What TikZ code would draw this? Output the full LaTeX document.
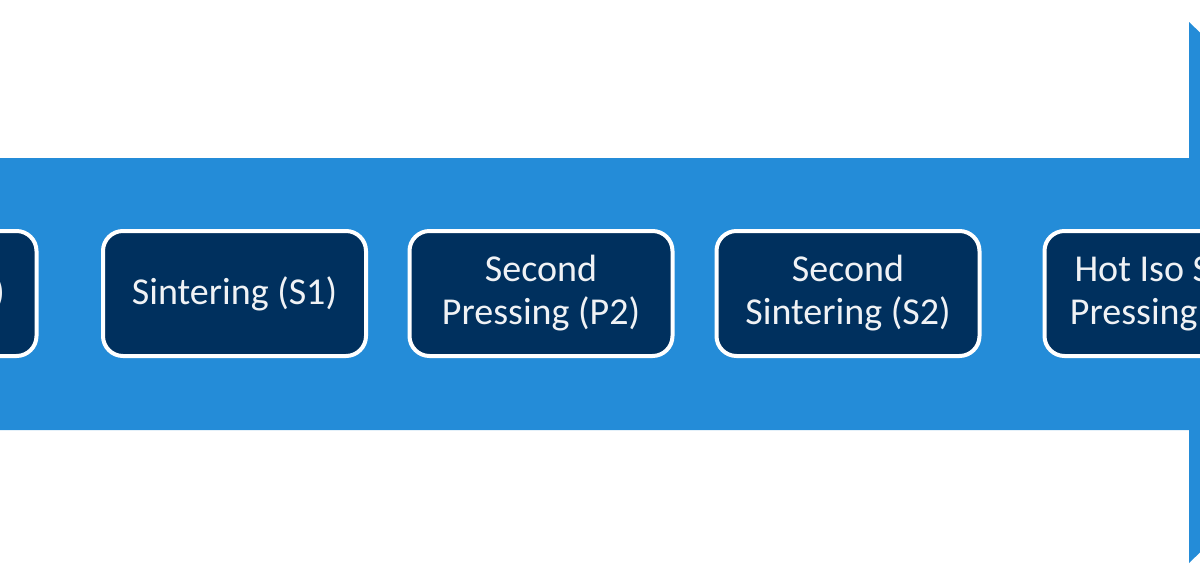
\documentclass[tikz,border=0pt]{standalone}
\usepackage{fontspec}
\setmainfont{Carlito}
\definecolor{bandblue}{RGB}{36,140,216}
\definecolor{navy}{RGB}{0,48,94}
\definecolor{txt}{RGB}{240,242,245}
\begin{document}
\begin{tikzpicture}[x=1pt,y=-1pt,
  stage/.style={draw=white, line width=4pt, fill=navy, rounded corners=20pt,
    minimum width=263pt, minimum height=125pt, align=center, text=txt,
    font=\fontsize{38}{43}\selectfont, inner sep=0pt}]
\useasboundingbox (0,0) rectangle (1200,584);
\clip (0,0) rectangle (1200,584);
\fill[bandblue] (-20,158) -- (1189,158) -- (1189,22) -- (1470,292) -- (1189,563) -- (1189,430) -- (-20,430) -- cycle;
\node[stage] (s1) at (-95,293.5) {};
\node[text=txt, font=\fontsize{38}{43}\selectfont, anchor=east, inner sep=0pt] (s1t) at (5,293.5) {)};
\node[stage] (s2) at (234.5,293.5) {Sintering (S1)};
\node[stage] (s3) at (541,293.5) {Second\\Pressing (P2)};
\node[stage] (s4) at (848,293.5) {Second\\Sintering (S2)};
\node[stage] (s5) at (1176,293.5) {Hot Iso Static\\Pressing (HIP)};
\end{tikzpicture}
\end{document}
